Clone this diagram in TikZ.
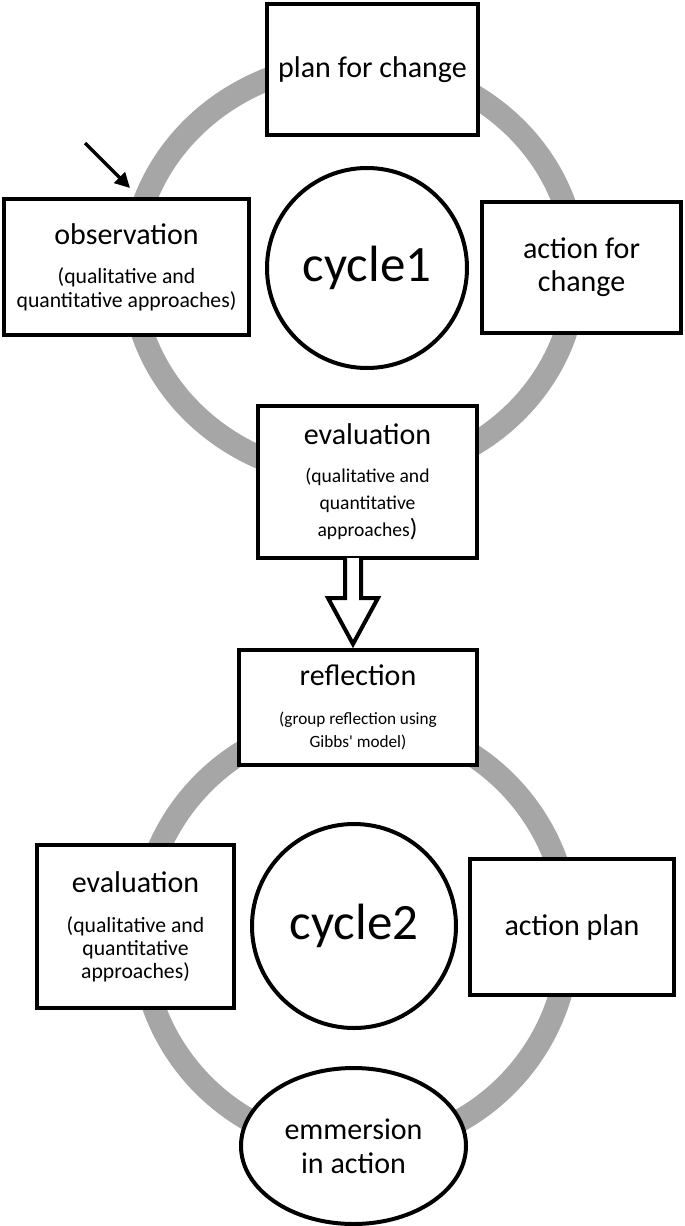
\documentclass[tikz,border=0pt]{standalone}
\usepackage{fontspec}
\setmainfont{Carlito}
\usetikzlibrary{arrows.meta,calc,shapes.geometric}
\definecolor{ringgray}{HTML}{A6A6A6}
\newcommand{\bigt}{\fontsize{30}{30}\selectfont}
\begin{document}
\begin{tikzpicture}[x=1pt,y=-1pt,
  ring/.style={draw=ringgray,line width=23pt},
  box/.style={draw=black,line width=4pt,fill=white,rectangle,inner sep=0pt,outer sep=0pt,align=center},
  disc/.style={draw=black,line width=4pt,fill=white,circle,inner sep=0pt,outer sep=0pt},
  oval/.style={draw=black,line width=4pt,fill=white,ellipse,inner sep=0pt,outer sep=0pt,align=center},
  hollow/.style={draw=black,line width=4pt,fill=white,line join=miter},
  pointer/.style={draw=black,line width=3.5pt,-{Triangle[length=15pt,width=15pt]}}
]
\useasboundingbox (0,0) rectangle (685,1226);

% gray cycle rings
\draw[ring] (354,270) ellipse [x radius=222, y radius=207];
\draw[ring] (355,934) circle [radius=214];

% cycle 1
\node[box, minimum width=211pt, minimum height=131pt, font=\fontsize{30}{36}\selectfont] (plan) at (372.5,69.5) {plan for change};
\node[box, minimum width=245pt, minimum height=136pt, font=\fontsize{21.7}{24}\selectfont] (obs) at (126.5,267)
  {\bigt observation\\[15pt]\fontsize{21.7}{24}\selectfont (qualitative and\\\fontsize{21.7}{24}\selectfont quantitative approaches)};
\node[box, minimum width=199pt, minimum height=131pt, font=\fontsize{30}{33}\selectfont] (act) at (581.5,267.5) {action for\\change};
\node[disc, minimum size=200pt, font=\fontsize{51}{51}\selectfont] (c1) at (367,268) {cycle1};
\node[box, minimum width=219pt, minimum height=152pt, font=\fontsize{19.6}{27}\selectfont] (ev1) at (367.5,482)
  {\bigt evaluation\\[10.5pt]\fontsize{19.6}{27}\selectfont (qualitative and\\\fontsize{19.6}{27}\selectfont quantitative\\\fontsize{19.6}{27}\selectfont approaches{\fontsize{25}{25}\selectfont)}};

% cycle 2
\node[box, minimum width=238pt, minimum height=115pt, font=\fontsize{17.2}{23}\selectfont] (refl) at (358,707.5)
  {\bigt reflection\\[16pt]\fontsize{17.2}{23}\selectfont (group reflection using\\\fontsize{17.2}{23}\selectfont Gibbs\textquotesingle\ model)};
\node[box, minimum width=197pt, minimum height=163pt, font=\fontsize{21.7}{23}\selectfont] (ev2) at (135.5,926.5)
  {\bigt evaluation\\[17pt]\fontsize{21.7}{23}\selectfont (qualitative and\\\fontsize{21.7}{23}\selectfont quantitative\\\fontsize{21.7}{23}\selectfont approaches)};
\node[disc, minimum size=204pt, font=\fontsize{51}{51}\selectfont] (c2) at (354,926) {cycle2};
\node[box, minimum width=204pt, minimum height=136pt, font=\fontsize{30}{36}\selectfont] (ap) at (572,927) {action plan};
\node[oval, minimum width=225pt, minimum height=156pt, font=\fontsize{30}{34}\selectfont] (emm) at (353.5,1146) {emmersion\\in action};

% hollow arrow from cycle 1 evaluation to reflection
\filldraw[hollow] ($(ev1.south)+(-22.5,0)$) -- ++(0,40) -- ++(-17,0)
  -- ($(refl.north)+(-5,-6)$) -- ($(ev1.south)+(10.5,40)$) -- ++(-17,0) -- ++(0,-40);

% start pointer
\coordinate (ps) at (85,143);
\coordinate (pe) at (130,188);
\draw[pointer] (ps) -- (pe);
\end{tikzpicture}
\end{document}
